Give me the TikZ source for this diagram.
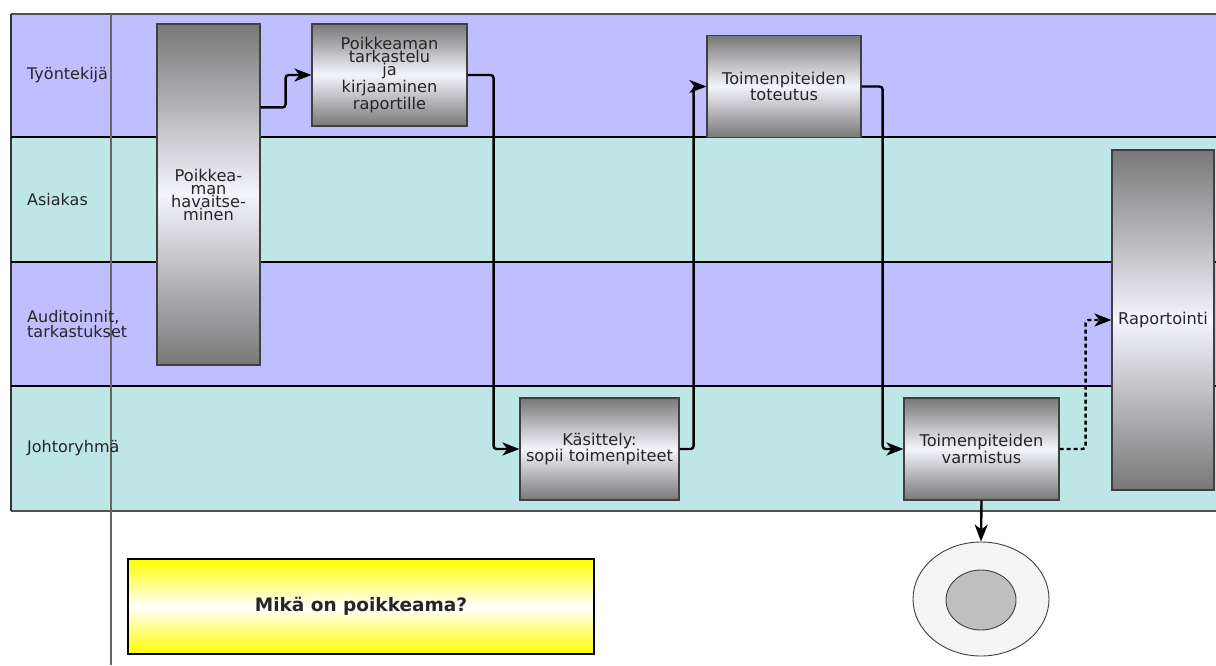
\documentclass[tikz,border=0pt]{standalone}
\usepackage{fontspec}
\setmainfont{DejaVu Sans}
\usetikzlibrary{arrows.meta,shapes.geometric}
\definecolor{lanep}{RGB}{191,191,255}
\definecolor{lanet}{RGB}{190,230,230}
\definecolor{boxgray}{RGB}{120,120,120}
\definecolor{boxmid}{RGB}{244,244,252}
\definecolor{edgegray}{RGB}{80,80,80}
\begin{document}
\begin{tikzpicture}[x=1pt,y=-1pt,
  proc/.style={draw=black!75, line width=1.2pt, inner sep=0pt, top color=boxgray, bottom color=boxgray, middle color=boxmid, align=center, font=\fontsize{16.2pt}{13pt}\selectfont, text=black!85},
  lanelabel/.style={anchor=west, align=left, inner sep=0pt, font=\fontsize{16pt}{13pt}\selectfont, text=black!85},
  flow/.style={line width=2.4pt, rounded corners=3pt, -{Stealth[length=17pt,width=13pt,inset=5pt]}},
  divider/.style={line width=1.8pt, black},
  ]
\useasboundingbox (0,0) rectangle (1216,665);
\fill[white] (0,0) rectangle (1216,665);
% lanes
\fill[lanep] (11,14) rectangle (1216,137);
\fill[lanet] (11,137) rectangle (1216,262);
\fill[lanep] (11,262) rectangle (1216,386);
\fill[lanet] (11,386) rectangle (1216,511);
\draw[edgegray, line width=1.5pt] (11,14) -- (1216,14);
\draw[edgegray, line width=1.5pt] (11,511) -- (1216,511);
\draw[black!80, line width=1.5pt] (11,14) -- (11,511);
\draw[divider] (11,137) -- (1216,137);
\draw[divider] (11,262) -- (1216,262);
\draw[divider] (11,386) -- (1216,386);
\draw[black!60, line width=1.6pt] (111,14) -- (111,665);
% lane labels
\node[lanelabel] (l1) at (27,75.5) {Työntekijä};
\node[lanelabel] (l2) at (27,199.5) {Asiakas};
\node[lanelabel] (l3) at (27,324) {Auditoinnit,\\tarkastukset};
\node[lanelabel] (l4) at (27,448.5) {Johtoryhmä};
% process boxes
\node[proc, minimum width=103pt, minimum height=341pt] (hav) at (208.5,194.5) {Poikkea-\\man\\havaitse-\\minen};
\node[proc, minimum width=155pt, minimum height=102pt] (tark) at (389.5,75) {Poikkeaman\\tarkastelu\\ja\\kirjaaminen\\raportille};
\node[proc, minimum width=154pt, minimum height=102pt] (tot) at (784,86.5) {Toimenpiteiden\\toteutus};
\node[proc, minimum width=159pt, minimum height=102pt] (kas) at (599.5,449) {Käsittely:\\sopii toimenpiteet};
\node[proc, minimum width=155pt, minimum height=102pt] (var) at (981.5,449) {Toimenpiteiden\\varmistus};
\node[proc, minimum width=102pt, minimum height=340pt] (rap) at (1163,320) {Raportointi};
% question box
\node[draw=black, line width=1.8pt, inner sep=0pt, minimum width=466pt, minimum height=95pt, top color=yellow, bottom color=yellow, middle color=white, font=\fontsize{18.5pt}{20pt}\selectfont\bfseries, text=black!85] (q) at (361,606.5) {Mikä on poikkeama?};
% end event
\node[ellipse, draw=black!75, line width=0.9pt, fill=black!4, minimum width=136pt, minimum height=114pt, inner sep=0pt] (endo) at (981,599) {};
\node[ellipse, draw=black!75, line width=0.9pt, fill=black!25, minimum width=70pt, minimum height=60pt, inner sep=0pt] (endi) at (981,600) {};
% connectors
\draw[flow] ([yshift=-84pt]hav.north east) -- ++(25,0) |- (tark.west);
\draw[flow] (tark.east) -- ++(26,0) |- (kas.west);
\draw[flow] (kas.east) -- ++(14,0) |- (tot.west);
\draw[flow] (tot.east) -- ++(21,0) |- (var.west);
\draw[flow, dash pattern=on 4pt off 3pt] (var.east) -- ++(26,0) |- (rap.west);
\draw[flow] (var.south) -- (endo.north);
\end{tikzpicture}
\end{document}
